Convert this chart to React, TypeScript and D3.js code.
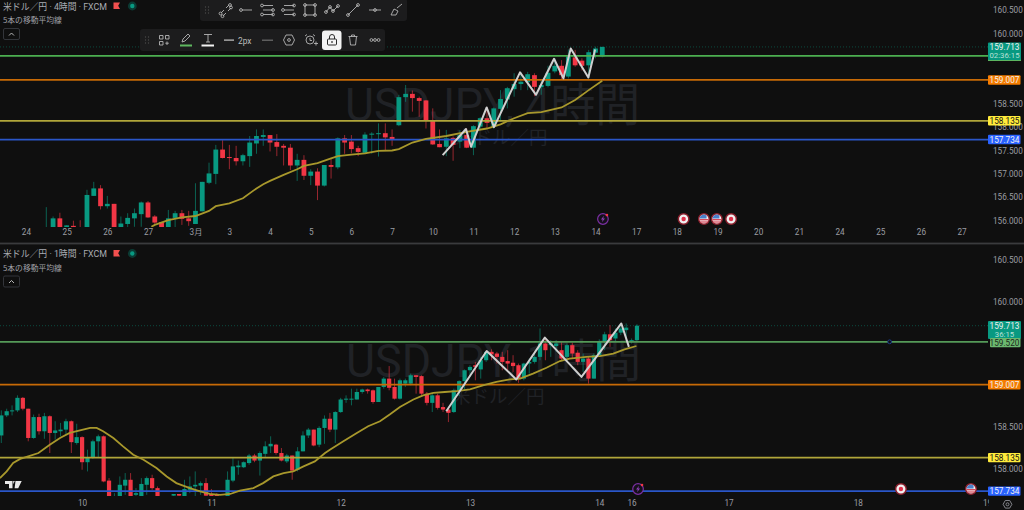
import * as d3 from "d3";
import { useEffect, useRef } from "react";

// 4 hour pane, one entry per bar
const opens4h = [
  155.72, 155.72, 156.05, 155.72, 155.89, 155.8, 155.72, 156.53, 156.69, 156.31,
  156.36, 155.72, 155.93, 156.05, 156.14, 156.39, 156.09, 155.97, 155.72, 156.06,
  156.16, 156.05, 155.93, 156.2, 156.81, 157.0, 157.52, 157.36, 157.34, 157.27,
  157.38, 157.65, 157.79, 157.83, 157.68, 157.6, 157.56, 157.18, 157.3, 156.96,
  157.05, 156.75, 157.19, 157.14, 157.76, 157.69, 157.55, 157.45, 157.84, 157.85,
  157.87, 157.79, 158.04, 158.64, 158.71, 158.62, 158.57, 158.13, 157.64, 157.58,
  157.77, 157.69, 157.83, 157.56, 158.01, 158.19, 158.01, 158.39, 158.59, 158.81,
  158.92, 158.96, 159.11, 158.85, 158.88, 159.19, 159.31, 159.08, 159.49, 159.42,
  159.32, 159.59, 159.51,
];
const closes4h = [
  155.8, 156.05, 155.72, 155.9, 155.72, 155.72, 156.55, 156.69, 156.31, 156.36,
  155.72, 155.94, 156.06, 156.16, 156.39, 156.07, 155.96, 155.8, 156.05, 156.16,
  156.04, 155.99, 156.21, 156.83, 157.01, 157.52, 157.34, 157.35, 157.27, 157.4,
  157.67, 157.81, 157.83, 157.67, 157.58, 157.56, 157.18, 157.3, 156.96, 157.05,
  156.75, 157.19, 157.15, 157.76, 157.67, 157.53, 157.47, 157.84, 157.86, 157.87,
  157.78, 157.74, 158.64, 158.71, 158.62, 158.56, 158.13, 157.63, 157.57, 157.76,
  157.62, 157.83, 157.56, 158.02, 158.19, 158.09, 158.4, 158.6, 158.83, 158.92,
  158.97, 159.13, 158.86, 158.9, 159.16, 159.31, 159.11, 159.51, 159.32, 159.31,
  159.6, 159.68, 159.713,
];
const highs4h = [
  156.29, 156.09, 156.17, 155.9, 156.0, 156.01, 156.66, 156.83, 156.76, 156.53,
  156.36, 156.09, 156.16, 156.26, 156.41, 156.42, 156.12, 155.97, 156.23, 156.21,
  156.23, 156.21, 156.8, 156.83, 157.24, 157.62, 157.72, 157.62, 157.6, 157.43,
  157.81, 157.95, 157.95, 157.83, 157.85, 157.64, 157.64, 157.43, 157.4, 157.1,
  157.12, 157.19, 157.33, 157.78, 157.83, 157.83, 157.6, 157.89, 157.89, 158.08,
  158.08, 157.95, 158.69, 158.9, 158.78, 158.65, 158.58, 158.4, 157.95, 157.94,
  157.8, 157.94, 157.97, 158.04, 158.21, 158.42, 158.42, 158.79, 158.86, 159.15,
  159.18, 159.18, 159.15, 159.01, 159.31, 159.47, 159.43, 159.66, 159.65, 159.47,
  159.65, 159.72, 159.72,
];
const lows4h = [
  155.65, 155.65, 155.65, 155.65, 155.65, 155.65, 155.65, 156.53, 156.24, 156.26,
  155.65, 155.65, 155.8, 155.87, 155.87, 156.06, 155.93, 155.72, 155.65, 155.8,
  155.91, 155.89, 155.93, 156.2, 156.78, 156.78, 157.33, 157.1, 157.18, 157.18,
  157.15, 157.43, 157.6, 157.48, 157.38, 157.18, 157.08, 156.85, 156.87, 156.76,
  156.44, 156.73, 156.9, 157.1, 157.43, 157.44, 157.38, 157.44, 157.43, 157.37,
  157.51, 157.6, 158.02, 158.54, 158.33, 158.22, 157.97, 157.62, 157.57, 157.38,
  157.28, 157.55, 157.55, 157.4, 157.94, 157.97, 157.97, 158.12, 158.4, 158.65,
  158.79, 158.79, 158.66, 158.69, 158.85, 159.15, 159.02, 159.04, 159.29, 159.21,
  159.04, 159.47, 159.49,
];
const maBars4h = [15.5, 16, 18, 20, 22, 24, 25, 27, 29, 31, 32, 33, 35, 37, 38, 40, 42, 43, 45, 47, 49, 51, 52, 54, 56, 59, 62, 65, 67, 69, 71, 73, 76, 78, 80, 82];
const maValues4h = [155.87, 155.91, 156.01, 156.07, 156.1, 156.21, 156.31, 156.37, 156.48, 156.69, 156.78, 156.85, 156.98, 157.1, 157.17, 157.23, 157.33, 157.38, 157.41, 157.44, 157.49, 157.5, 157.53, 157.67, 157.75, 157.81, 157.9, 157.97, 158.06, 158.19, 158.3, 158.32, 158.42, 158.58, 158.79, 158.99];
const zigzagBars4h = [58.46, 61.9, 62.64, 64.95, 66.03, 69.87, 72.23, 74.89, 76.27, 77.35, 79.95, 80.94];
const zigzagValues4h = [157.4, 157.96, 157.58, 158.42, 158.0, 159.17, 158.69, 159.46, 159.04, 159.68, 159.06, 159.66];
const dayBars4h = [-3, 3, 9, 15, 22, 27, 33, 39, 45, 51, 57, 63, 69, 75, 81, 87, 93, 99, 105, 111, 117, 123, 129, 135];
const dayLabels4h = ["24", "25", "26", "27", "3月", "3", "4", "5", "6", "7", "10", "11", "12", "13", "14", "17", "18", "19", "20", "21", "24", "25", "26", "27"];
const priceTicks4h = [160.5, 160, 158.5, 158, 157.5, 157, 156.5, 156];
const eventBars4h = [82.1, 94, 97, 98.9, 101];
const eventKinds4h = ["bolt", "jp", "us", "us", "jp"];

// 1 hour pane, one entry per bar
const opens1h = [
  158.4, 158.64, 158.69, 158.7, 158.85, 158.72, 158.37, 158.62, 158.45, 158.63,
  158.43, 158.45, 158.47, 158.57, 158.31, 158.38, 158.08, 158.13, 158.33, 158.39,
  157.86, 157.62, 157.67, 157.8, 157.87, 157.69, 157.67, 157.81, 157.89, 157.77,
  157.6, 157.59, 157.68, 157.7, 157.67, 157.75, 157.79, 157.8, 157.83, 157.7,
  157.69, 157.64, 157.67, 157.86, 158.02, 158.02, 158.07, 158.16, 158.1, 158.18,
  158.27, 158.29, 158.19, 158.09, 158.16, 157.99, 158.21, 158.4, 158.47, 158.29,
  158.49, 158.6, 158.47, 158.68, 158.83, 158.83, 158.83, 158.92, 158.95, 158.94,
  158.8, 158.98, 159.08, 158.98, 158.84, 159.02, 159.02, 159.12, 159.11, 158.9,
  158.79, 158.88, 158.74, 158.71, 158.68, 158.94, 159.05, 159.18, 159.24, 159.19,
  159.3, 159.4, 159.38, 159.34, 159.29, 159.27, 159.24, 159.08, 159.26, 159.28,
  159.34, 159.5, 159.48, 159.47, 159.42, 159.34, 159.48, 159.39, 159.28, 159.32,
  159.08, 159.36, 159.53, 159.61, 159.56, 159.63, 159.66, 159.52, 159.54,
];
const closes1h = [
  158.64, 158.69, 158.7, 158.85, 158.72, 158.37, 158.62, 158.45, 158.63, 158.43,
  158.46, 158.47, 158.57, 158.32, 158.38, 158.08, 158.13, 158.33, 158.39, 157.85,
  157.67, 157.65, 157.81, 157.87, 157.67, 157.71, 157.82, 157.89, 157.77, 157.67,
  157.62, 157.61, 157.7, 157.68, 157.76, 157.79, 157.81, 157.83, 157.68, 157.67,
  157.67, 157.66, 157.87, 158.03, 158.04, 158.08, 158.16, 158.1, 158.19, 158.27,
  158.3, 158.19, 158.1, 158.16, 157.98, 158.21, 158.4, 158.47, 158.28, 158.49,
  158.6, 158.47, 158.68, 158.83, 158.84, 158.84, 158.92, 158.95, 158.93, 158.8,
  158.98, 159.08, 158.97, 158.84, 159.06, 159.06, 159.12, 159.1, 158.9, 158.79,
  158.88, 158.73, 158.71, 158.67, 158.94, 159.05, 159.18, 159.22, 159.22, 159.3,
  159.4, 159.37, 159.34, 159.28, 159.26, 159.23, 159.08, 159.26, 159.28, 159.34,
  159.5, 159.42, 159.5, 159.5, 159.32, 159.48, 159.38, 159.28, 159.32, 159.08,
  159.36, 159.53, 159.61, 159.54, 159.63, 159.68, 159.69, 159.54, 159.713,
];
const highs1h = [
  158.7, 158.72, 158.76, 158.88, 158.86, 158.72, 158.65, 158.66, 158.67, 158.64,
  158.57, 158.55, 158.6, 158.58, 158.54, 158.39, 158.23, 158.35, 158.41, 158.4,
  157.89, 157.71, 157.91, 157.95, 157.95, 157.77, 157.89, 157.91, 157.93, 157.79,
  157.63, 157.62, 157.7, 157.7, 157.87, 157.91, 157.97, 157.85, 157.89, 157.76,
  157.71, 157.67, 157.97, 158.13, 158.1, 158.09, 158.18, 158.18, 158.21, 158.33,
  158.39, 158.3, 158.25, 158.18, 158.16, 158.26, 158.45, 158.49, 158.47, 158.51,
  158.64, 158.67, 158.69, 158.85, 158.88, 158.96, 158.96, 158.96, 158.96, 158.95,
  158.98, 159.1, 159.23, 159.08, 159.08, 159.08, 159.14, 159.12, 159.12, 158.92,
  158.91, 158.9, 158.79, 158.74, 158.96, 159.06, 159.19, 159.24, 159.28, 159.34,
  159.41, 159.43, 159.4, 159.4, 159.42, 159.36, 159.26, 159.27, 159.32, 159.4,
  159.68, 159.56, 159.54, 159.54, 159.52, 159.5, 159.51, 159.42, 159.38, 159.34,
  159.38, 159.55, 159.64, 159.72, 159.68, 159.73, 159.74, 159.56, 159.73,
];
const lows1h = [
  158.31, 158.62, 158.64, 158.68, 158.7, 158.33, 158.36, 158.41, 158.36, 158.19,
  158.35, 158.39, 158.41, 158.19, 158.29, 157.99, 157.97, 158.12, 158.13, 157.84,
  157.67, 157.6, 157.65, 157.69, 157.65, 157.65, 157.65, 157.69, 157.75, 157.65,
  157.58, 157.57, 157.67, 157.66, 157.65, 157.71, 157.67, 157.69, 157.67, 157.65,
  157.65, 157.62, 157.66, 157.84, 157.93, 158.01, 158.05, 158.08, 157.92, 158.13,
  158.19, 158.17, 158.09, 158.07, 157.87, 157.97, 158.21, 158.37, 158.27, 158.26,
  158.3, 158.44, 158.31, 158.67, 158.79, 158.76, 158.83, 158.9, 158.9, 158.78,
  158.8, 158.96, 158.94, 158.83, 158.83, 158.98, 159.0, 158.9, 158.88, 158.76,
  158.68, 158.71, 158.68, 158.56, 158.67, 158.87, 158.94, 159.1, 159.06, 159.08,
  159.28, 159.3, 159.26, 159.18, 159.18, 159.16, 159.03, 159.06, 159.14, 159.26,
  159.3, 159.3, 159.34, 159.4, 159.3, 159.28, 159.32, 159.24, 159.16, 159.02,
  159.08, 159.34, 159.42, 159.46, 159.52, 159.6, 159.52, 159.5, 159.53,
];
const maBars1h = [-0.25, 1, 2.2, 3.5, 5, 6.9, 9, 10.9, 12.7, 14.6, 16.5, 17.7, 18.9, 20.8, 22.6, 24.5, 26.4, 28.8, 30.7, 32.5, 35, 36.9, 38.7, 40.6, 42.5, 44.3, 46.8, 48.6, 50.5, 52.4, 54.2, 56.1, 58.2, 60.1, 61, 63.5, 66, 68.1, 70.3, 72.1, 74, 76.5, 78.3, 80.2, 82.3, 84.5, 87, 89.4, 91.9, 94.4, 96.3, 98.7, 101.2, 103.7, 105.5, 108.6, 111.1, 113.6, 115.7, 117.9];
const maValues1h = [157.89, 157.97, 158.07, 158.12, 158.15, 158.19, 158.29, 158.37, 158.43, 158.46, 158.49, 158.49, 158.45, 158.37, 158.27, 158.17, 158.11, 158.01, 157.91, 157.83, 157.77, 157.73, 157.7, 157.69, 157.7, 157.74, 157.77, 157.83, 157.91, 157.95, 157.97, 158.03, 158.09, 158.19, 158.23, 158.33, 158.43, 158.51, 158.57, 158.65, 158.74, 158.83, 158.88, 158.91, 158.92, 158.93, 158.95, 159.0, 159.04, 159.07, 159.08, 159.14, 159.21, 159.29, 159.32, 159.34, 159.35, 159.38, 159.43, 159.47];
const zigzagBars1h = [82.6, 90.1, 95.6, 100.9, 107.7, 115.1, 116.5];
const zigzagValues1h = [158.69, 159.41, 159.07, 159.57, 159.1, 159.74, 159.46];
const dayBars1h = [15, 39, 63, 87, 111, 117, 135, 159, 183];
const dayLabels1h = ["10", "11", "12", "13", "14", "16", "17", "18", "19"];
const priceTicks1h = [160.5, 160, 158.5, 158];
const eventBars1h = [118.2, 167, 180];
const eventKinds1h = ["bolt", "jp", "us"];

// horizontal levels shared by both panes
const levelValues = [159.007, 158.135, 157.734];
const levelLabels = ["159.007", "158.135", "157.734"];
const levelColors = ["#c76a06", "#b1a63a", "#2a56c8"];
const badgeColors = ["#f57c00", "#ffeb3b", "#2962ff"];
const badgeText = ["#f2f2f2", "#111111", "#f2f2f2"];
const supportValue = 159.52;
const lastValue = 159.713;

const UI_FONT = 'Roboto, "Noto Sans CJK JP", sans-serif';
const JP_FONT = '"Noto Sans CJK JP", sans-serif';
const BG = "#0f0f0f";
const UP = "#089981";
const DOWN = "#f23645";
const AXIS_X = 988;

type Pane = {
  id: string;
  yTicks: number[];
  yScale: d3.ScaleLinear<number, number>;
  xScale: d3.ScaleLinear<number, number>;
  top: number;
  bottom: number;
  bodyWidth: number;
  o: number[];
  h: number[];
  l: number[];
  c: number[];
  maX: number[];
  maY: number[];
  zzX: number[];
  zzY: number[];
  dayBars: number[];
  dayLabels: string[];
  eventBars: number[];
  eventKinds: string[];
  eventY: number;
  axisY: number;
  watermark: string;
  wmX: number;
  wmY: number;
  wmSubX: number;
  wmSubY: number;
  levelColor: string;
};

function drawEvent(g: any, x: number, y: number, kind: string) {
  const e = g.append("g").attr("transform", `translate(${x},${y})`);
  if (kind === "bolt") {
    e.append("circle").attr("r", 5.3).attr("fill", "#15101a").attr("stroke", "#7b2fa3").attr("stroke-width", 1.2);
    e.append("path").attr("d", "M1,-3.2 L-2,0.6 L-0.2,0.6 L-1,3.2 L2,-0.6 L0.2,-0.6 Z").attr("fill", "#8e3fb8");
    e.append("circle").attr("cx", 4).attr("cy", -4).attr("r", 1.3).attr("fill", "#f23645");
  } else {
    e.append("circle").attr("r", 5.3).attr("fill", "#f0f0f0").attr("stroke", "#8a1f2c").attr("stroke-width", 1.5);
    if (kind === "jp") {
      e.append("circle").attr("r", 2.2).attr("fill", "#e0304a");
    } else {
      e.append("rect").attr("x", -4.4).attr("y", 0).attr("width", 8.8).attr("height", 1.4).attr("fill", "#d8475a");
      e.append("rect").attr("x", -3.8).attr("y", 2.4).attr("width", 7.6).attr("height", 1.2).attr("fill", "#d8475a");
      e.append("path").attr("d", "M-4.4,-0.4 A4.5,4.5 0 0 1 2.6,-3.6 L2.6,-0.4 Z").attr("fill", "#4a7fc9");
    }
  }
}

function drawBadge(g: any, y0: number, y1: number, fill: string, color: string, label: string, x0 = 988) {
  g.append("rect").attr("x", x0).attr("y", y0).attr("width", 1020.5 - x0).attr("height", y1 - y0).attr("rx", 1).attr("fill", fill);
  g.append("text")
    .attr("x", 1004.5)
    .attr("y", (y0 + y1) / 2 + 3)
    .attr("text-anchor", "middle")
    .attr("font-family", UI_FONT)
    .attr("font-size", 8.2)
    .attr("fill", color)
    .text(label);
}

function drawPane(root: any, p: Pane) {
  const g = root.append("g");
  const clipId = `clip-${p.id}`;
  g.append("clipPath").attr("id", clipId).append("rect").attr("x", 0).attr("y", p.top).attr("width", AXIS_X).attr("height", p.bottom - p.top);
  const plot = g.append("g").attr("clip-path", `url(#${clipId})`);
  const { xScale: x, yScale: y } = p;

  // watermark sits under everything
  plot.append("text").attr("x", p.wmX).attr("y", p.wmY).attr("font-family", UI_FONT).attr("font-size", 46).attr("textLength", 295).attr("lengthAdjust", "spacingAndGlyphs").attr("fill", "#202226").text(p.watermark);
  plot.append("text").attr("x", p.wmSubX).attr("y", p.wmSubY).attr("font-family", JP_FONT).attr("font-size", 18.5).attr("fill", "#202226").text("米ドル／円");

  // last price dotted line
  plot.append("line").attr("x1", 0).attr("x2", AXIS_X).attr("y1", y(lastValue)).attr("y2", y(lastValue)).attr("stroke", "#0c4a3f").attr("stroke-width", 1).attr("stroke-dasharray", "1 2");

  // candles
  const bars = plot.append("g").selectAll("g").data(p.o).join("g");
  bars.append("line")
    .attr("x1", (_: number, i: number) => x(i))
    .attr("x2", (_: number, i: number) => x(i))
    .attr("y1", (_: number, i: number) => y(p.h[i]))
    .attr("y2", (_: number, i: number) => y(p.l[i]))
    .attr("stroke", (_: number, i: number) => (p.c[i] >= p.o[i] ? UP : DOWN))
    .attr("stroke-opacity", 0.6)
    .attr("stroke-width", 1);
  bars.append("rect")
    .attr("x", (_: number, i: number) => x(i) - p.bodyWidth / 2)
    .attr("width", p.bodyWidth)
    .attr("y", (_: number, i: number) => y(Math.max(p.o[i], p.c[i])))
    .attr("height", (_: number, i: number) => Math.max(1, Math.abs(y(p.o[i]) - y(p.c[i]))))
    .attr("fill", (_: number, i: number) => (p.c[i] >= p.o[i] ? UP : DOWN));

  // horizontal levels
  [supportValue, ...levelValues].forEach((v, i) => {
    plot.append("line")
      .attr("x1", 0)
      .attr("x2", AXIS_X)
      .attr("y1", y(v))
      .attr("y2", y(v))
      .attr("stroke", i === 0 ? p.levelColor : levelColors[i - 1])
      .attr("stroke-width", 1.7);
  });

  // moving average
  const line = d3.line<number>().x((d) => x(d)).curve(d3.curveLinear);
  plot.append("path")
    .attr("d", line.y((_, i) => y(p.maY[i]))(p.maX))
    .attr("fill", "none")
    .attr("stroke", "#a8982c")
    .attr("stroke-width", 1.8);

  // hand drawn zigzag
  plot.append("path")
    .attr("d", line.y((_, i) => y(p.zzY[i]))(p.zzX))
    .attr("fill", "none")
    .attr("stroke", "#d0d0d0")
    .attr("stroke-width", 2)
    .attr("stroke-linejoin", "round");

  p.eventBars.forEach((b, i) => drawEvent(plot, x(b), p.eventY, p.eventKinds[i]));

  // price axis
  const yAxis = g.append("g").attr("transform", `translate(${AXIS_X},0)`).call(
    d3.axisRight(y).tickValues(p.yTicks).tickFormat(d3.format(".3f") as any).tickSize(0).tickPadding(5)
  );
  yAxis.select(".domain").remove();
  yAxis.selectAll("text").attr("font-family", UI_FONT).attr("font-size", 8.2).attr("fill", "#9b9da3");

  // time axis
  const timeClip = `time-${p.id}`;
  g.append("clipPath").attr("id", timeClip).append("rect").attr("x", 0).attr("y", p.bottom).attr("width", 989).attr("height", 20);
  const xAxis = g.append("g").attr("clip-path", `url(#${timeClip})`).append("g").attr("transform", `translate(0,${p.axisY})`).call(
    d3.axisBottom(x).tickValues(p.dayBars).tickFormat((_: any, i: number) => p.dayLabels[i]).tickSize(0).tickPadding(0)
  );
  xAxis.select(".domain").remove();
  xAxis.selectAll("text").attr("font-family", UI_FONT).attr("font-size", 8.2).attr("fill", "#9b9da3");
}

const ToolIcon = ({ x, y = 10, d, extra }: { x: number; y?: number; d: string; extra?: number[][] }) => (
  <g transform={`translate(${x},${y})`} fill="none" stroke="#b4b4b4" strokeWidth={0.9}>
    <path d={d} />
    {(extra || []).map((c, i) => (
      <circle key={i} cx={c[0]} cy={c[1]} r={1.4} />
    ))}
  </g>
);

const Header = ({ y, label }: { y: number; label: string }) => (
  <g>
    <text x={3} y={y + 3.5} fontFamily={UI_FONT} fontSize={9.4} fill="#a9abb2" textLength={104} lengthAdjust="spacingAndGlyphs">
      {label}
    </text>
    <path d={`M113.5,${y - 3.5} h6.5 l-1.8,3.2 l1.8,3.2 h-6.5 Z`} fill="#f2504f" />
    <circle cx={132.3} cy={y} r={4.4} fill="#0b3a33" />
    <circle cx={132.3} cy={y} r={2.2} fill="#089981" />
    <text x={3} y={y + 17} fontFamily={JP_FONT} fontSize={7.8} fill="#a0a2a8">
      5本の移動平均線
    </text>
    <rect x={3.5} y={y + 22.5} width={16} height={11} rx={1.5} fill="none" stroke="#33353a" />
    <path d={`M9,${y + 29.5} l2.5,-2.5 l2.5,2.5`} fill="none" stroke="#c8c8c8" strokeWidth={0.9} />
  </g>
);

const Dots = ({ x, y }: { x: number; y: number }) => (
  <g fill="#4a4a4a">
    {[-3, 0, 3].map((dy) =>
      [-1.5, 1.5].map((dx) => <circle key={`${dy}${dx}`} cx={x + dx} cy={y + dy} r={0.7} />)
    )}
  </g>
);

export default function App() {
  const ref: any = useRef(null);

  useEffect(() => {
    const root = d3.select(ref.current);
    root.selectAll("*").remove();

    const x4 = d3.scaleLinear().domain([0, 100]).range([46.3, 724.3]);
    const y4 = d3.scaleLinear().domain([156, 160]).range([220.7, 33.5]);
    const x1 = d3.scaleLinear().domain([0, 100]).range([1.3, 540]);
    const y1 = d3.scaleLinear().domain([158, 160]).range([468.9, 301.7]);

    drawPane(root, {
      id: "h4", yTicks: priceTicks4h, yScale: y4, xScale: x4, top: 0, bottom: 227, bodyWidth: 4.8,
      o: opens4h, h: highs4h, l: lows4h, c: closes4h,
      maX: maBars4h, maY: maValues4h, zzX: zigzagBars4h, zzY: zigzagValues4h,
      dayBars: dayBars4h, dayLabels: dayLabels4h, eventBars: eventBars4h, eventKinds: eventKinds4h,
      eventY: 219, axisY: 229, watermark: "USDJPY, 4時間", wmX: 345, wmY: 121, wmSubX: 455, wmSubY: 144,
      levelColor: "#4caf50",
    });
    drawPane(root, {
      id: "h1", yTicks: priceTicks1h, yScale: y1, xScale: x1, top: 246, bottom: 496, bodyWidth: 4.2,
      o: opens1h, h: highs1h, l: lows1h, c: closes1h,
      maX: maBars1h, maY: maValues1h, zzX: zigzagBars1h, zzY: zigzagValues1h,
      dayBars: dayBars1h, dayLabels: dayLabels1h, eventBars: eventBars1h, eventKinds: eventKinds1h,
      eventY: 489, axisY: 500, watermark: "USDJPY, 1時間", wmX: 346, wmY: 377, wmSubX: 452, wmSubY: 403,
      levelColor: "#559a58",
    });

    // price badges
    const badges = root.append("g");
    const teal = (y0: number, h: number, time: string) => {
      badges.append("rect").attr("x", 988).attr("y", y0).attr("width", 33).attr("height", h).attr("rx", 1).attr("fill", UP);
      badges.append("text").attr("x", 1004.5).attr("y", y0 + 7.5).attr("text-anchor", "middle").attr("font-family", UI_FONT).attr("font-size", 8.2).attr("fill", "#f0f0f0").text("159.713");
      badges.append("text").attr("x", 1004.5).attr("y", y0 + 15.5).attr("text-anchor", "middle").attr("font-family", UI_FONT).attr("font-size", 7.8).attr("fill", "#b6e0d6").text(time);
    };
    // top pane: green tag peeks out below the last price tag
    badges.append("rect").attr("x", 988).attr("y", 52).attr("width", 33).attr("height", 9).attr("fill", "#5cb560");
    teal(42.5, 17.6, "02:36:15");
    teal(321, 18, "36:15");
    drawBadge(badges, 338, 347.2, "#6bb86f", "#1c2a1c", "159.520", 990);
    levelValues.forEach((v, i) => {
      [y4, y1].forEach((y) => {
        const cy = y(v);
        drawBadge(badges, cy - 4.7, cy + 4.7, badgeColors[i], badgeText[i], levelLabels[i]);
      });
    });

    // anchor on the 1h support line
    badges.append("circle").attr("cx", x1(164.9)).attr("cy", y1(supportValue)).attr("r", 1.9).attr("fill", BG).attr("stroke", "#1c3f8f").attr("stroke-width", 1);
  }, []);

  return (
    <svg width={1024} height={510} style={{ position: "absolute", left: 0, top: 0, background: BG }}>
      <g ref={ref} />
      <rect x={0} y={242.6} width={1024} height={1.8} fill="#3a3b3d" />

      <Header y={6} label="米ドル／円 · 4時間 · FXCM" />
      <Header y={253.5} label="米ドル／円 · 1時間 · FXCM" />

      {/* drawing toolbars */}
      <rect x={200} y={-2} width={207} height={23} rx={3} fill="#1c1c1d" />
      <Dots x={207} y={10} />
      <ToolIcon x={225} d="M-4,3 L-1,0 M1,-2 L4,-5 M-2,6 L1,3 M3,1 L6,-2" extra={[[-4.5, 3.5], [5, -5], [-2.5, 6.2], [6, -2.5]]} />
      <ToolIcon x={246} d="M-4,0 H6" extra={[[-5, 0]]} />
      <ToolIcon x={267} d="M-4,-4.5 H6 M-4,0 H6 M-4,4.5 H6" extra={[[-5, -4.5], [6, 0], [-5, 4.5], [6, 4.5]]} />
      <ToolIcon x={288} d="M-4,-4.5 H6 M-4,0 H6 M-4,4.5 H6" extra={[[6, -4.5], [-5, 0], [6, 4.5]]} />
      <ToolIcon x={310} d="M-5,-5 H5 V5 H-5 Z" extra={[[-5, -5], [5, -5], [5, 5], [-5, 5]]} />
      <ToolIcon x={332} d="M-6,2 L-2,-3 L1,1 L6,-4" extra={[[-6, 2], [-2, -3], [1, 1], [6, -4]]} />
      <ToolIcon x={353} d="M-5,5 L5,-5" extra={[[-5, 5], [5, -5]]} />
      <ToolIcon x={375} d="M-6,0 H6" extra={[[0, 0]]} />
      <ToolIcon x={396} d="M-5,5 L-2,-1 L2,1 L0,5 Z M1,-2 L6,-6" extra={[]} />

      <rect x={140} y={29} width={245} height={22} rx={3} fill="#1c1c1d" />
      <Dots x={147} y={40} />
      <ToolIcon x={164} y={40} d="M-4.5,-4.5 h3.5 v3.5 h-3.5 Z M1.5,-4.5 h3.5 v3.5 h-3.5 Z M-4.5,1.5 h3.5 v3.5 h-3.5 Z M3,1.5 v3.5 M1.3,3.2 h3.5" />
      <ToolIcon x={186} y={38} d="M-4,4 L-3,1 L2,-4 L4,-2 L-1,3 Z" />
      <rect x={180} y={44.5} width={12} height={2} fill="#5fb760" />
      <ToolIcon x={208} y={38} d="M-4,-3.5 H4 M0,-3.5 V4 M-2,4 H2" />
      <rect x={201.5} y={44.5} width={12.5} height={2} fill="#f2f2f2" />
      <rect x={224} y={39.5} width={10} height={1.2} fill="#c8c8c8" />
      <text x={238} y={43.5} fontFamily={UI_FONT} fontSize={8.4} fill="#bcbcbc">2px</text>
      <rect x={262} y={39.7} width={11} height={0.9} fill="#8a8a8a" />
      <ToolIcon x={289} y={40} d="M-3,-5 H3 L5.5,0 L3,5 H-3 L-5.5,0 Z" extra={[[0, 0]]} />
      <ToolIcon x={310} y={40} d="M-4,0 a4,4 0 1 0 8,0 a4,4 0 1 0 -8,0 M0,-2 V0.5 H2 M-5,-4 L-3,-5.5 M5,-4 L3,-5.5 M4,3.5 h4 M6,1.5 v4" />
      <rect x={322} y={30.5} width={19.5} height={19.5} rx={3} fill="#f3f3f3" />
      <g transform="translate(332,40)" fill="none" stroke="#2a2a2a" strokeWidth={1}>
        <rect x={-4.5} y={-1} width={9} height={6} rx={1} />
        <path d="M-2.5,-1 V-3 a2.5,2.5 0 0 1 5,0 V-1" />
        <circle cx={0} cy={2} r={0.5} />
      </g>
      <ToolIcon x={353} y={40} d="M-4.5,-3.5 H4.5 M-3.5,-3.5 L-2.5,5 H2.5 L3.5,-3.5 M-1.5,-3.5 V-5 H1.5 V-3.5" />
      <ToolIcon x={375} y={40} d="" extra={[[-3.6, 0], [0, 0], [3.6, 0]]} />

      {/* logo and settings */}
      <path d="M5,481 H12.5 V488.3 H9 V484 H5 Z M13.2,481 H14.8 L13.2,484.2 Z M15.5,481 H21.7 L18.2,488.3 H14.6 Z" fill="#e8e8e8" />
      <g transform="translate(1007.5,504.3)" fill="none" stroke="#8e9096" strokeWidth={0.9}>
        <path d="M-2.2,-3.8 H2.2 L4.4,0 L2.2,3.8 H-2.2 L-4.4,0 Z" />
        <circle r={1.5} />
      </g>
    </svg>
  );
}
